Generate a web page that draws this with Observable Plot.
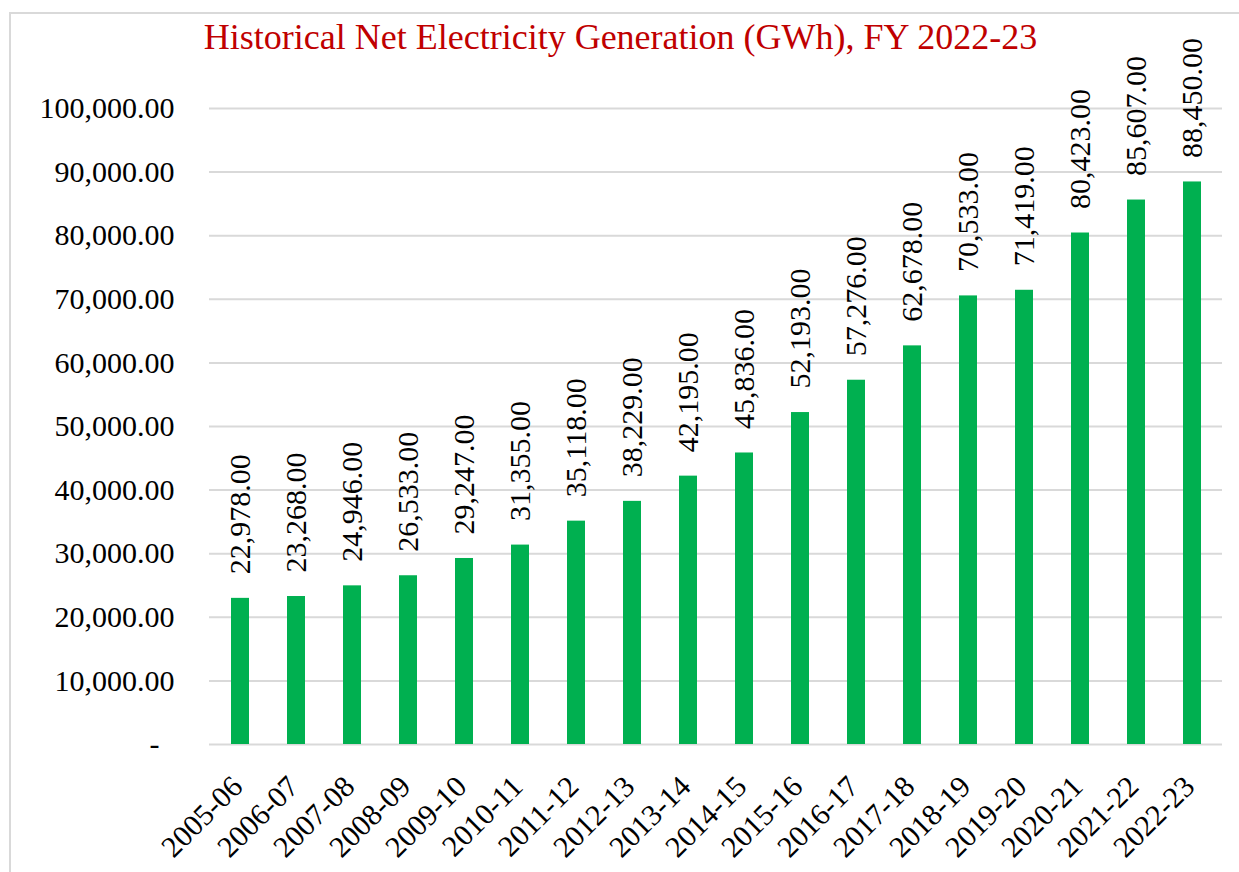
<!DOCTYPE html>
<html>
<head>
<meta charset="utf-8">
<script src="https://cdn.jsdelivr.net/npm/d3@7"></script>
<script src="https://cdn.jsdelivr.net/npm/@observablehq/plot@0.6"></script>
<style>
  html, body { margin: 0; padding: 0; background: #fff; overflow: hidden; }
  #wrap { position: relative; width: 1239px; height: 872px; overflow: hidden; }
  #frame { position: absolute; left: 9px; top: 12px; width: 1300px; height: 1000px; border: 2px solid #D9D9D9; box-sizing: border-box; }
  #title { position: absolute; left: 0; top: 19px; width: 1239px; text-align: center; font-family: "Liberation Serif", serif; font-size: 36px; line-height: 36px; color: #C00000; white-space: nowrap; padding-left: 1px; }
  #chart { position: absolute; left: 0; top: 0; }
  #chart svg text { font-family: "Liberation Serif", serif; }
</style>
</head>
<body>
<div id="wrap">
  <div id="frame"></div>
  <div id="chart"></div>
  <div id="title">Historical Net Electricity Generation (GWh), FY 2022-23</div>
</div>
<script>
const categories = ["2005-06","2006-07","2007-08","2008-09","2009-10","2010-11","2011-12","2012-13","2013-14","2014-15","2015-16","2016-17","2017-18","2018-19","2019-20","2020-21","2021-22","2022-23"];
const values = [22978, 23268, 24946, 26533, 29247, 31355, 35118, 38229, 42195, 45836, 52193, 57276, 62678, 70533, 71419, 80423, 85607, 88450];
const yTicks = [0, 10000, 20000, 30000, 40000, 50000, 60000, 70000, 80000, 90000, 100000];

const data = categories.map((c, i) => ({year: c, value: values[i]}));
const fmt = d3.format(",.2f");

const chart = Plot.plot({
  width: 1239,
  height: 872,
  marginLeft: 209,
  marginRight: 17,
  marginTop: 108,
  marginBottom: 128,
  style: {fontFamily: "Liberation Serif", fontSize: "30px", color: "#000", background: "transparent", overflow: "visible"},
  x: {domain: categories, paddingInner: 0.68, paddingOuter: 0.34, label: null},
  y: {domain: [0, 100000], label: null},
  marks: [
    Plot.ruleY(yTicks, {stroke: "#D9D9D9", strokeWidth: 2}),
    Plot.barY(data, {x: "year", y: "value", fill: "#00B050"}),
    Plot.text(data, {x: "year", y: "value", text: d => fmt(d.value), rotate: -90, textAnchor: "start", lineAnchor: "middle", dy: -24, fontSize: 30, fontFamily: "Liberation Serif", fill: "#000"}),
    Plot.axisY(yTicks, {tickSize: 0, tickPadding: 35, tickFormat: d => d === 0 ? "-\u00a0\u00a0" : fmt(d), fontSize: 30, label: null}),
    Plot.axisX({tickRotate: -45, tickSize: 0, tickPadding: 37, dx: -3, fontSize: 30, label: null})
  ]
});
document.getElementById("chart").appendChild(chart);
</script>
</body>
</html>
